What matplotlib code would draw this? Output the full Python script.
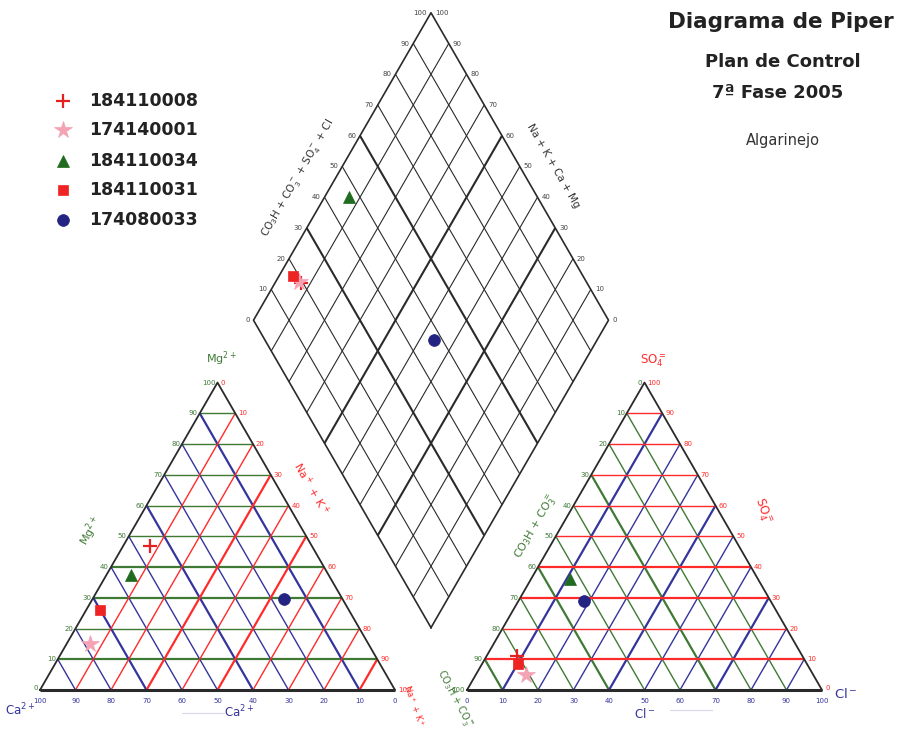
import numpy as np
import matplotlib.pyplot as plt

# Piper diagram for the Algarinejo control plan samples

samples = ["184110008", "174140001", "184110034", "184110031", "174080033"]

# cations (% meq/l)
ca = [45.5, 78.5, 55.5, 70.0, 16.5]
mg = [47.0, 15.0, 37.5, 26.0, 29.5]
na_k = [7.5, 6.5, 7.0, 4.0, 54.0]

# anions (% meq/l)
hco3 = [80.5, 81.0, 53.0, 81.5, 52.5]
so4 = [11.0, 5.0, 36.0, 8.5, 29.0]
cl = [8.5, 14.0, 11.0, 10.0, 18.5]

markers = ['+', '*', '^', 's', 'o']
mcolors = ['#e62020', '#f4a2b4', '#1f6b1f', '#ee2424', '#232382']
msizes = [10, 13, 8.5, 7.5, 8.5]

ticks = list(range(0, 101, 10))

GREEN = '#3f7a35'
RED = '#ff2b2b'
BLUE = '#34349c'
DARK = '#2a2a2a'

# layout in pixels (y grows downwards)
S = 355.0
H = S * np.sqrt(3) / 2
X0L = 40.0
Y0 = 690.0
GAP = 72.0
X0R = X0L + S + GAP
BX = X0L + S + GAP / 2
BY = Y0 - GAP / 2 * np.sqrt(3)


def cation_xy(mg_, na_):
    return X0L + S * (na_ + mg_ / 2) / 100, Y0 - H * mg_ / 100


def anion_xy(so4_, cl_):
    return X0R + S * (cl_ + so4_ / 2) / 100, Y0 - H * so4_ / 100


def diamond_xy(a, cm):
    # a = SO4 + Cl, cm = Ca + Mg
    return BX + S / 2 * (a - cm) / 100, BY - H * (a + cm) / 100


def seg(ax, p, q, color, lw):
    ax.plot([p[0], q[0]], [p[1], q[1]], color=color, lw=lw, solid_capstyle='butt', zorder=2)


fig = plt.figure(figsize=(9.07, 7.34), dpi=100)
ax = fig.add_axes([0, 0, 1, 1])
ax.set_xlim(0, 907)
ax.set_ylim(734, 0)
ax.axis('off')

# ---- cation triangle
for v in range(10, 100, 10):
    seg(ax, cation_xy(v, 0), cation_xy(v, 100 - v), GREEN, 1.6 if v in (10, 30, 40) else 1.0)
for v in range(10, 100, 10):
    seg(ax, cation_xy(0, 100 - v), cation_xy(100 - v, 0), BLUE, 1.6 if v in (10, 40, 70) else 1.0)
for v in range(10, 100, 10):
    seg(ax, cation_xy(0, v), cation_xy(100 - v, v), RED, 1.6 if v in (30, 50, 90) else 1.0)
tri = [cation_xy(0, 0), cation_xy(0, 100), cation_xy(100, 0), cation_xy(0, 0)]
ax.plot([p[0] for p in tri], [p[1] for p in tri], color=DARK, lw=1.3, zorder=3)
seg(ax, cation_xy(0, 0), cation_xy(0, 100), DARK, 2.2)

for v in ticks:
    x, y = cation_xy(v, 0)
    ax.text(x - 2, y - (2 if v == 0 else 0), str(v), color=GREEN, fontsize=5, ha='right', va='center')
    x, y = cation_xy(100 - v, v)
    ax.text(x + 3, y, str(v), color=RED, fontsize=5, ha='left', va='center')
    x, y = cation_xy(0, 100 - v)
    ax.text(x, y + 11, str(v), color=BLUE, fontsize=5, ha='center', va='center')

ax.text(221, 359, 'Mg$^{2+}$', color=GREEN, fontsize=8, ha='center', va='center')
ax.text(91, 531, 'Mg$^{2+}$', color=GREEN, fontsize=8, ha='center', va='center', rotation=60)
ax.text(311, 488, 'Na$^+$ + K$^+$', color=RED, fontsize=8, ha='center', va='center', rotation=-60)
ax.text(414, 706, 'Na$^+$ + K$^+$', color=RED, fontsize=6, ha='center', va='center', rotation=-70)
ax.text(20, 710, 'Ca$^{2+}$', color=BLUE, fontsize=8.5, ha='center', va='center')
ax.text(239, 712, 'Ca$^{2+}$', color=BLUE, fontsize=8.5, ha='center', va='center')
ax.plot([182, 224], [713, 713], color='#d8d8ee', lw=0.8)

# ---- anion triangle
for v in range(10, 100, 10):
    seg(ax, anion_xy(0, 100 - v), anion_xy(100 - v, 0), GREEN, 1.6 if v in (30, 60, 90) else 1.0)
for v in range(10, 100, 10):
    seg(ax, anion_xy(0, v), anion_xy(100 - v, v), BLUE, 1.6 if v in (10, 40, 70) else 1.0)
for v in range(10, 100, 10):
    seg(ax, anion_xy(v, 0), anion_xy(v, 100 - v), RED, 1.6 if v in (10, 30, 40) else 1.0)
tri = [anion_xy(0, 0), anion_xy(100, 0), anion_xy(0, 100), anion_xy(0, 0)]
ax.plot([p[0] for p in tri], [p[1] for p in tri], color=DARK, lw=1.3, zorder=3)
seg(ax, anion_xy(0, 0), anion_xy(0, 100), DARK, 2.2)

for v in ticks:
    x, y = anion_xy(100 - v, 0)
    ax.text(x - 2, y, str(v), color=GREEN, fontsize=5, ha='right', va='center')
    x, y = anion_xy(v, 100 - v)
    ax.text(x + 3, y - (2 if v == 0 else 0), str(v), color=RED, fontsize=5, ha='left', va='center')
    x, y = anion_xy(0, v)
    ax.text(x, y + 11, str(v), color=BLUE, fontsize=5, ha='center', va='center')

ax.text(653, 361, 'SO$_4^{=}$', color=RED, fontsize=8.5, ha='center', va='center')
ax.text(762, 511, 'SO$_4^{=}$', color=RED, fontsize=8.5, ha='center', va='center', rotation=-70)
ax.text(537, 527, 'CO$_3$H + CO$_3^{=}$', color=GREEN, fontsize=8, ha='center', va='center', rotation=60)
ax.text(455, 699, 'CO$_3$H + CO$_3^{=}$', color=GREEN, fontsize=7, ha='center', va='center', rotation=-62)
ax.text(846, 694, 'Cl$^-$', color=BLUE, fontsize=9.5, ha='center', va='center')
ax.text(645, 714, 'Cl$^-$', color=BLUE, fontsize=8.5, ha='center', va='center')
ax.plot([670, 712], [710, 710], color='#d8d8ee', lw=0.8)

# ---- central diamond
for v in range(10, 100, 10):
    lw = 1.5 if v in (30, 60) else 0.8
    seg(ax, diamond_xy(v, 0), diamond_xy(v, 100), DARK, lw)
    seg(ax, diamond_xy(0, v), diamond_xy(100, v), DARK, lw)
dia = [diamond_xy(0, 0), diamond_xy(100, 0), diamond_xy(100, 100), diamond_xy(0, 100), diamond_xy(0, 0)]
ax.plot([p[0] for p in dia], [p[1] for p in dia], color=DARK, lw=1.2, zorder=3)

for v in ticks:
    x, y = diamond_xy(v, 100)
    ax.text(x - 4, y, str(v), color='#444444', fontsize=5, ha='right', va='center')
    x, y = diamond_xy(100, v)
    ax.text(x + 4, y, str(v), color='#444444', fontsize=5, ha='left', va='center')

ax.text(298, 178, 'CO$_3$H + CO$_3^-$ + SO$_4^-$ + Cl', color='#333333', fontsize=7.5,
        ha='center', va='center', rotation=60)
ax.text(553, 166, 'Na + K + Ca + Mg', color='#333333', fontsize=7.5,
        ha='center', va='center', rotation=-60)

# ---- samples
for i in range(len(samples)):
    pts = [cation_xy(mg[i], na_k[i]),
           anion_xy(so4[i], cl[i]),
           diamond_xy(so4[i] + cl[i], ca[i] + mg[i])]
    for x, y in pts:
        ax.plot(x, y, marker=markers[i], color=mcolors[i], ms=msizes[i],
                mew=1.6 if markers[i] == '+' else 0.5, ls='none', zorder=5)

# ---- legend
rows = [101, 130, 161, 190, 220]
for i, name in enumerate(samples):
    ax.plot(63, rows[i], marker=markers[i], color=mcolors[i], ms=msizes[i],
            mew=1.6 if markers[i] == '+' else 0.5, ls='none')
    ax.text(89, rows[i], name, fontsize=12.5, fontweight='bold', color='#222222',
            ha='left', va='center')

# ---- titles
ax.text(781, 22, 'Diagrama de Piper', fontsize=15.5, fontweight='bold', color='#222222',
        ha='center', va='center')
ax.text(783, 62, 'Plan de Control', fontsize=13, fontweight='bold', color='#222222',
        ha='center', va='center')
ax.text(778, 93, '7ª Fase 2005', fontsize=13, fontweight='bold', color='#222222',
        ha='center', va='center')
ax.text(783, 140, 'Algarinejo', fontsize=10.5, color='#333333', ha='center', va='center')

fig.savefig('out.png', dpi=100)
